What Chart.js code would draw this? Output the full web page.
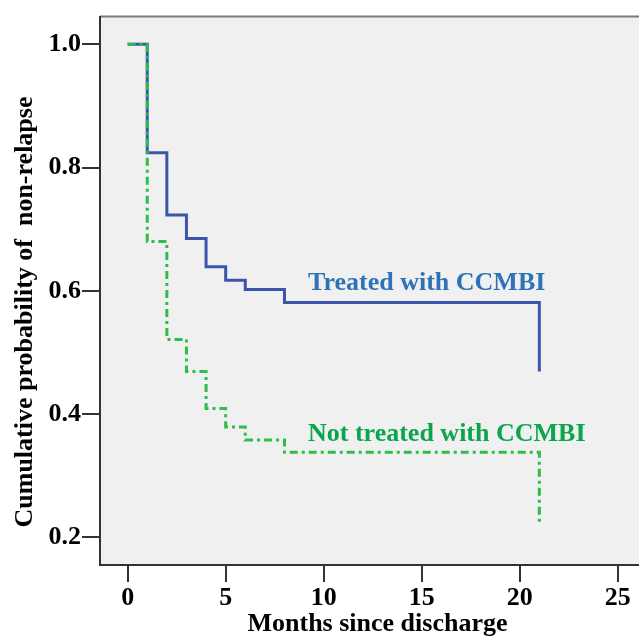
<!DOCTYPE html>
<html>
<head>
<meta charset="utf-8">
<script src="https://cdn.jsdelivr.net/npm/chart.js@4"></script>
<style>
  html, body { margin: 0; padding: 0; background: #fff; overflow: hidden; }
  #wrap { width: 660px; height: 640px; }
</style>
</head>
<body>
<div id="wrap"><canvas id="kmChart" width="660" height="640"></canvas></div>
<script>
// months since discharge at each step
const months = [0, 1, 2, 3, 4, 5, 6, 8, 21];
const treated = [1.0, 0.824, 0.723, 0.685, 0.639, 0.617, 0.602, 0.581, 0.469];
const notTreated = [1.0, 0.680, 0.521, 0.469, 0.409, 0.379, 0.358, 0.338, 0.223];
const xTicks = [0, 5, 10, 15, 20, 25];
const yTicks = [0.2, 0.4, 0.6, 0.8, 1.0];

const serif = "'Liberation Serif', 'Times New Roman', serif";

const toPoints = vals => vals.map((v, i) => ({ x: months[i], y: v }));

// gray plot background + top frame line
const plotBg = {
    id: 'plotBg',
    beforeDraw(chart) {
        const { ctx, chartArea: a } = chart;
        ctx.save();
        ctx.fillStyle = '#f0f0f0';
        ctx.fillRect(a.left, a.top, a.right - a.left, a.bottom - a.top);
        ctx.strokeStyle = '#7a7a7a';
        ctx.lineWidth = 2;
        ctx.beginPath();
        ctx.moveTo(a.left, a.top);
        ctx.lineTo(a.right, a.top);
        ctx.stroke();
        ctx.restore();
    }
};

// curve labels + rotated y title
const labelsPlugin = {
    id: 'curveLabels',
    afterDatasetsDraw(chart) {
        const { ctx, scales: { x, y } } = chart;
        ctx.save();
        ctx.font = 'bold 26px ' + serif;
        ctx.textBaseline = 'alphabetic';
        ctx.textAlign = 'left';
        ctx.fillStyle = '#2e72b8';
        ctx.fillText('Treated with CCMBI', x.getPixelForValue(9.2), y.getPixelForValue(0.602));
        ctx.fillStyle = '#0aa54c';
        ctx.fillText('Not treated with CCMBI', x.getPixelForValue(9.2), y.getPixelForValue(0.357));

        ctx.translate(32, 312);
        ctx.rotate(-Math.PI / 2);
        ctx.textAlign = 'center';
        ctx.fillStyle = '#000';
        ctx.font = 'bold 26px ' + serif;
        ctx.fillText('Cumulative probability of  non-relapse', 0, 0);
        ctx.restore();
    }
};

new Chart(document.getElementById('kmChart'), {
    type: 'line',
    data: {
        datasets: [{
            label: 'Not treated with CCMBI',
            data: toPoints(notTreated),
            borderColor: '#2cbd4a',
            borderWidth: 3,
            borderDash: [8, 4, 3, 4],
            stepped: true,
            pointRadius: 0,
            fill: false
        }, {
            label: 'Treated with CCMBI',
            data: toPoints(treated),
            borderColor: '#3c55aa',
            borderWidth: 3,
            stepped: true,
            pointRadius: 0,
            fill: false
        }]
    },
    options: {
        responsive: false,
        animation: false,
        layout: { padding: { top: 15, right: 5, left: 0, bottom: 0 } },
        plugins: {
            legend: { display: false },
            tooltip: { enabled: false }
        },
        scales: {
            x: {
                type: 'linear',
                min: -1.41,
                max: 26.9,
                afterBuildTicks: scale => { scale.ticks = xTicks.map(v => ({ value: v })); },
                afterFit: scale => { scale.height = 75; },
                grid: { drawOnChartArea: false, drawTicks: true, tickLength: 17, color: '#333', lineWidth: 2 },
                border: { display: true, color: '#333', width: 2 },
                ticks: {
                    color: '#000',
                    padding: 1,
                    maxRotation: 0,
                    font: { family: serif, size: 26, weight: 'bold' }
                },
                title: {
                    display: true,
                    text: 'Months since discharge',
                    color: '#000',
                    padding: 0,
                    font: { family: serif, size: 26, weight: 'bold' }
                }
            },
            y: {
                min: 0.155,
                max: 1.045,
                afterBuildTicks: scale => { scale.ticks = yTicks.map(v => ({ value: v })); },
                afterFit: scale => { scale.width = 100; },
                grid: { drawOnChartArea: false, drawTicks: true, tickLength: 18, color: '#333', lineWidth: 2 },
                border: { display: true, color: '#333', width: 2 },
                ticks: {
                    color: '#000',
                    padding: 1,
                    callback: v => v.toFixed(1),
                    font: { family: serif, size: 26, weight: 'bold' }
                }
            }
        }
    },
    plugins: [plotBg, labelsPlugin]
});
</script>
</body>
</html>
